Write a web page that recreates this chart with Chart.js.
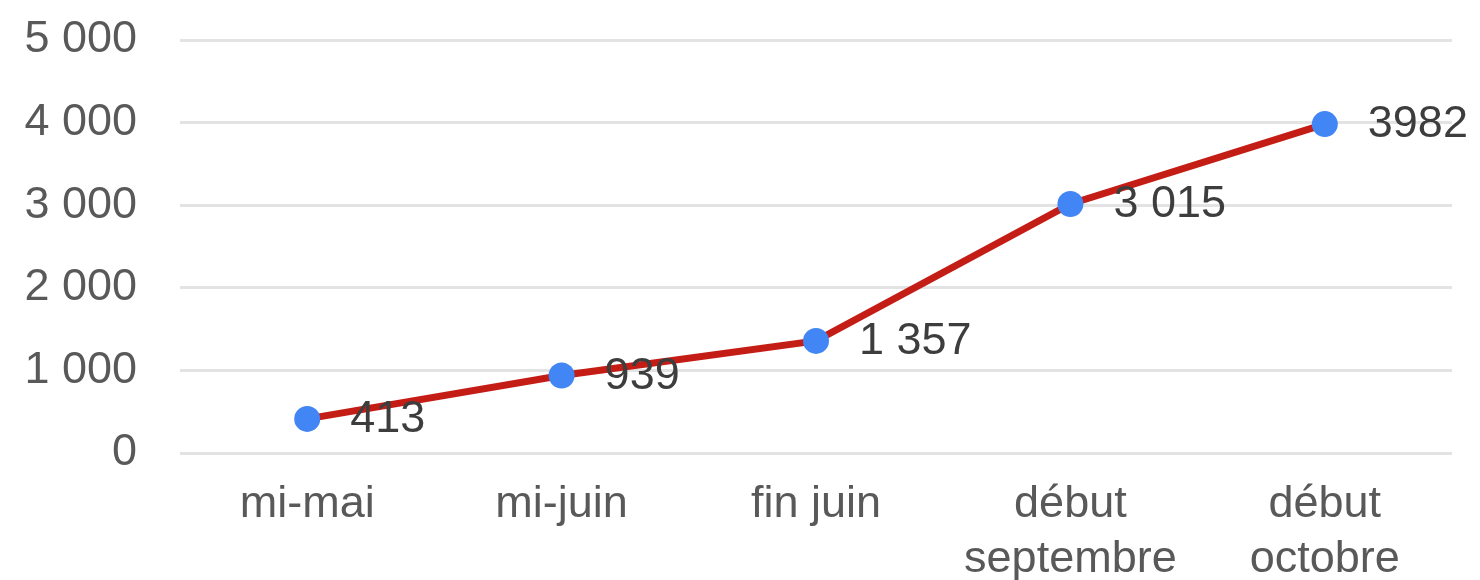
<!DOCTYPE html>
<html>
<head>
<meta charset="utf-8">
<script src="https://cdn.jsdelivr.net/npm/chart.js@4/dist/chart.umd.min.js"></script>
<style>
  html, body { margin: 0; padding: 0; background: #ffffff; }
  #wrap { width: 1480px; height: 580px; }
</style>
</head>
<body>
<div id="wrap"><canvas id="c" width="1480" height="580"></canvas></div>
<script>
const categories = [["mi-mai"], ["mi-juin"], ["fin juin"], ["début", "septembre"], ["début", "octobre"]];
const values = [413, 939, 1357, 3015, 3982];
const valueLabels = ["413", "939", "1 357", "3 015", "3982"];
const yTicks = [0, 1000, 2000, 3000, 4000, 5000];
const yTickLabels = ["0", "1 000", "2 000", "3 000", "4 000", "5 000"];

const FONT = "'Liberation Sans', Arial, sans-serif";

const valueLabelPlugin = {
  id: 'valueLabels',
  afterDatasetsDraw(chart) {
    const ctx = chart.ctx;
    const meta = chart.getDatasetMeta(0);
    ctx.save();
    ctx.font = "45px " + FONT;
    ctx.fillStyle = "#3d3d3d";
    ctx.textAlign = "left";
    ctx.textBaseline = "middle";
    meta.data.forEach((pt, i) => {
      ctx.fillText(valueLabels[i], pt.x + 43, pt.y + 1);
    });
    ctx.restore();
  }
};

new Chart(document.getElementById('c'), {
  type: 'line',
  data: {
    labels: categories,
    datasets: [{
      data: values,
      borderColor: '#c41d16',
      borderWidth: 7,
      pointBackgroundColor: '#4285f4',
      pointBorderColor: '#4285f4',
      pointBorderWidth: 0,
      pointRadius: 13,
      tension: 0,
      fill: false
    }]
  },
  options: {
    responsive: false,
    animation: false,
    events: [],
    layout: { padding: { top: 40, right: 28, left: 0, bottom: 0 } },
    plugins: {
      legend: { display: false },
      tooltip: { enabled: false }
    },
    scales: {
      x: {
        offset: true,
        grid: { display: false, drawTicks: false },
        border: { display: false },
        ticks: {
          color: '#595959',
          font: { family: FONT, size: 45, lineHeight: 1.22 },
          padding: 24,
          maxRotation: 0,
          autoSkip: false
        },
        afterFit(scale) { scale.height = 127; scale.paddingLeft = 0; scale.paddingRight = 0; }
      },
      y: {
        min: 0,
        max: 5000,
        afterBuildTicks(scale) { scale.ticks = yTicks.map(v => ({ value: v })); },
        grid: { color: '#e3e3e3', lineWidth: 3, drawTicks: false },
        border: { display: false },
        ticks: {
          color: '#595959',
          font: { family: FONT, size: 45 },
          padding: 43,
          callback(value) {
            const i = yTicks.indexOf(value);
            return i >= 0 ? yTickLabels[i] : '';
          }
        },
        afterFit(scale) { scale.width = 180; scale.paddingTop = 0; scale.paddingBottom = 0; }
      }
    }
  },
  plugins: [valueLabelPlugin]
});
</script>
</body>
</html>
